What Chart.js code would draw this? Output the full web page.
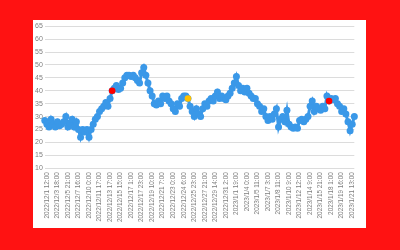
<!DOCTYPE html>
<html lang="en">

<head>
    <meta charset="UTF-8">
    <title>Temperature chart</title>
    <script src="https://cdn.jsdelivr.net/npm/chart.js"></script>
    <style>
        html, body {
            margin: 0;
            padding: 0;
            width: 400px;
            height: 250px;
            background: #ff1212;
            overflow: hidden;
        }
        #panel {
            position: absolute;
            left: 33px;
            top: 20px;
            width: 333px;
            height: 208px;
            background: #ffffff;
        }
    </style>
</head>

<body>
    <div id="panel"><canvas id="tempChart"></canvas></div>
    <script>
        // tick labels shown under the axis, one every 5 samples
        const tickLabels = [
            '2022/12/1 12:00', '2022/12/3 18:00', '2022/12/5 21:00', '2022/12/7 16:00',
            '2022/12/10 0:00', '2022/12/11 17:00', '2022/12/13 17:00', '2022/12/15 15:00',
            '2022/12/17 1:00', '2022/12/17 23:00', '2022/12/19 10:00', '2022/12/21 7:00',
            '2022/12/23 0:00', '2022/12/24 6:00', '2022/12/25 23:00', '2022/12/27 21:00',
            '2022/12/29 14:00', '2022/12/31 2:00', '2023/1/1 19:00', '2023/1/4 0:00',
            '2023/1/5 11:00', '2023/1/7 3:00', '2023/1/8 11:00', '2023/1/10 9:00',
            '2023/1/12 12:00', '2023/1/14 9:00', '2023/1/15 21:00', '2023/1/18 1:00',
            '2023/1/19 16:00', '2023/1/21 13:00'
        ];
        const tickEvery = 5;
        const firstTick = 1;

        // readings
        const readings = [
            28.5, 27, 26, 29, 27, 26, 28, 26.5, 27, 28,
            30, 26, 27.5, 29, 26, 28, 25, 22, 25, 24,
            25, 22, 25, 27, 29, 30, 32, 33, 34, 35.5,
            34, 37, 40, 41, 42, 40.5, 41, 43, 45, 46,
            46, 45.5, 46, 45, 44, 43, 47, 49, 46, 43,
            40, 38, 35, 34.5, 36, 35, 38, 37, 38, 36,
            35, 33, 32, 35, 34, 37, 38, 38, 37, 34,
            32, 30, 33, 31, 30, 33, 35, 34, 36, 37,
            36, 38, 39.5, 37, 38, 37, 36.5, 38, 39, 41,
            43, 45.5, 42, 40, 41, 39.5, 41, 39, 38, 37,
            37, 35, 34, 32, 33, 30, 28.5, 30, 29, 31,
            33, 26, 29, 30, 28, 32.5, 27, 26, 25.5, 26,
            25.5, 28.5, 29, 28, 29, 30, 34, 36, 32, 34,
            33, 32.5, 34, 33, 38, 36, 37, 36.5, 37, 35,
            34, 32, 33, 31, 28, 24.5, 27, 30
        ];

        // samples that are marked in another colour
        const markedIndex = [32, 68, 135];
        const markedColor = ['#ff0000', '#ffc000', '#ff0000'];

        const labels = readings.map((_, i) =>
            (i - firstTick) % tickEvery === 0 && i >= firstTick ? tickLabels[(i - firstTick) / tickEvery] || '' : '');

        const marked = readings.map((v, i) => markedIndex.includes(i) ? v : null);
        const markedColors = readings.map((_, i) => {
            const k = markedIndex.indexOf(i);
            return k >= 0 ? markedColor[k] : 'transparent';
        });

        new Chart(document.getElementById('tempChart').getContext('2d'), {
            type: 'line',
            data: {
                labels: labels,
                datasets: [
                    {
                        data: marked,
                        order: 0,
                        showLine: false,
                        pointRadius: 3.3,
                        pointBorderWidth: 0,
                        pointBackgroundColor: markedColors,
                        pointBorderColor: markedColors
                    },
                    {
                        data: readings,
                        order: 1,
                        borderColor: '#3a98e8',
                        borderWidth: 3,
                        pointRadius: 3.5,
                        pointBorderWidth: 0,
                        pointBackgroundColor: '#3a98e8',
                        tension: 0
                    }
                ]
            },
            options: {
                responsive: true,
                maintainAspectRatio: false,
                animation: false,
                layout: {
                    padding: { top: 6, right: 2, bottom: 2, left: 0 }
                },
                plugins: {
                    legend: { display: false },
                    tooltip: { enabled: false }
                },
                scales: {
                    x: {
                        grid: { display: false, drawTicks: false },
                        border: { display: false },
                        ticks: {
                            autoSkip: false,
                            minRotation: 90,
                            maxRotation: 90,
                            padding: 4,
                            color: '#7f7f7f',
                            font: { family: 'Liberation Sans', size: 6.4 }
                        }
                    },
                    y: {
                        min: 10,
                        max: 65,
                        grid: { color: '#dcdcdc', lineWidth: 1, drawTicks: false },
                        border: { display: false },
                        ticks: {
                            stepSize: 5,
                            padding: 2,
                            color: '#7f7f7f',
                            font: { family: 'Liberation Sans', size: 7 }
                        }
                    }
                }
            }
        });
    </script>
</body>

</html>
